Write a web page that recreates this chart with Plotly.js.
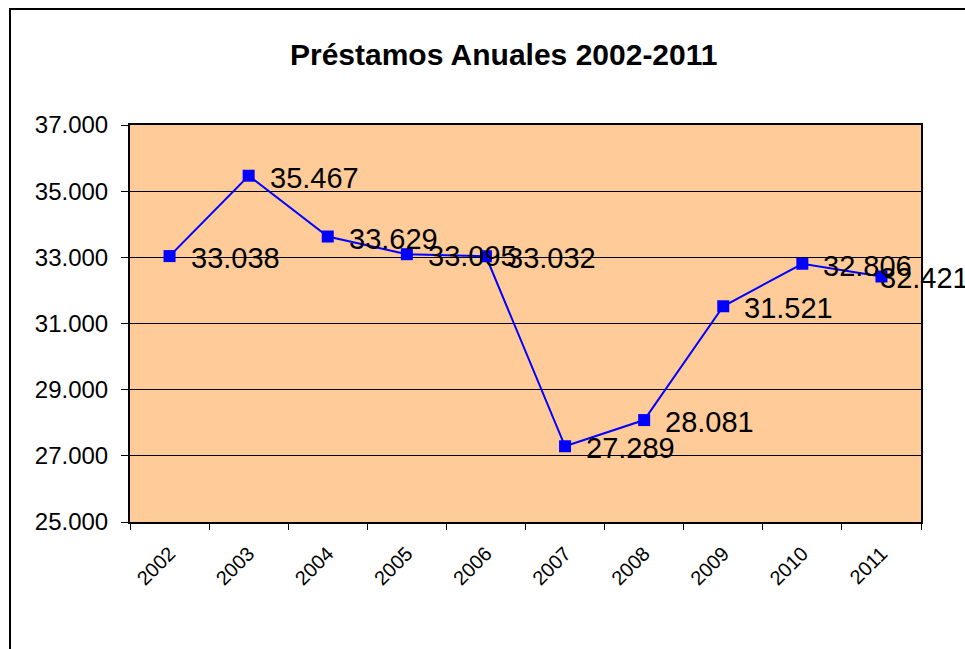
<!DOCTYPE html>
<html>
<head>
<meta charset="utf-8">
<script src="https://cdn.plot.ly/plotly-3.0.1.min.js"></script>
<style>
  html, body { margin: 0; padding: 0; background: #fff; }
  #wrap { position: relative; width: 965px; height: 649px; overflow: hidden; }
  #chart { width: 965px; height: 649px; }
  #frame { position: absolute; left: 9px; top: 8px; width: 1000px; height: 700px;
           border-left: 2px solid #000; border-top: 2px solid #000; pointer-events: none; }
</style>
</head>
<body>
<div id="wrap">
  <div id="chart"></div>
  <div id="frame"></div>
</div>
<script>
const years = ['2002','2003','2004','2005','2006','2007','2008','2009','2010','2011'];
const prestamos = [33038, 35467, 33629, 33095, 33032, 27289, 28081, 31521, 32806, 32421];
const yTicks = [25000, 27000, 29000, 31000, 33000, 35000, 37000];

function fmt(v) {
  return String(v).replace(/\B(?=(\d{3})+(?!\d))/g, '.');
}

const font = 'Liberation Sans, Arial, sans-serif';

const annotations = years.map((yr, i) => ({
  x: i, y: prestamos[i], xref: 'x', yref: 'y',
  text: fmt(prestamos[i]),
  showarrow: false, xanchor: 'left', yanchor: 'middle',
  xshift: i === years.length - 1 ? -3 : 19, yshift: -2,
  font: { family: font, size: 29, color: '#000' }
}));

const trace = {
  x: years, y: prestamos, type: 'scatter', mode: 'lines+markers',
  line: { color: '#0000FF', width: 2 },
  marker: { symbol: 'square', size: 12, color: '#0000FF' },
  cliponaxis: false, hoverinfo: 'skip'
};

const layout = {
  width: 965, height: 649,
  margin: { l: 130, r: 44, t: 125, b: 127 },
  paper_bgcolor: '#FFFFFF', plot_bgcolor: '#FFCC99',
  separators: ',.',
  showlegend: false,
  title: { text: '<b>Préstamos Anuales 2002-2011</b>', x: 0.522, xanchor: 'center', y: 0.916, yanchor: 'middle',
           font: { family: font, size: 30, color: '#000' } },
  xaxis: {
    type: 'category', tickson: 'boundaries', ticks: 'outside', ticklen: 6, tickcolor: '#000', tickwidth: 1,
    showline: true, linecolor: '#000', linewidth: 2, mirror: true, showgrid: false,
    tickangle: -45, tickfont: { family: font, size: 20, color: '#000' }, ticklabelstandoff: 10,
    range: [-0.5, 9.5], fixedrange: true
  },
  yaxis: {
    range: [25000, 37000], tickvals: yTicks, ticktext: yTicks.map(fmt),
    ticks: 'outside', ticklen: 7, tickcolor: '#000', tickwidth: 1,
    showline: true, linecolor: '#000', linewidth: 2, mirror: true,
    showgrid: true, gridcolor: '#000', gridwidth: 1, zeroline: false,
    tickfont: { family: font, size: 24, color: '#000' }, ticklabelstandoff: 8, fixedrange: true
  },
  annotations: annotations
};

Plotly.newPlot('chart', [trace], layout, { displayModeBar: false, staticPlot: true });
</script>
</body>
</html>
